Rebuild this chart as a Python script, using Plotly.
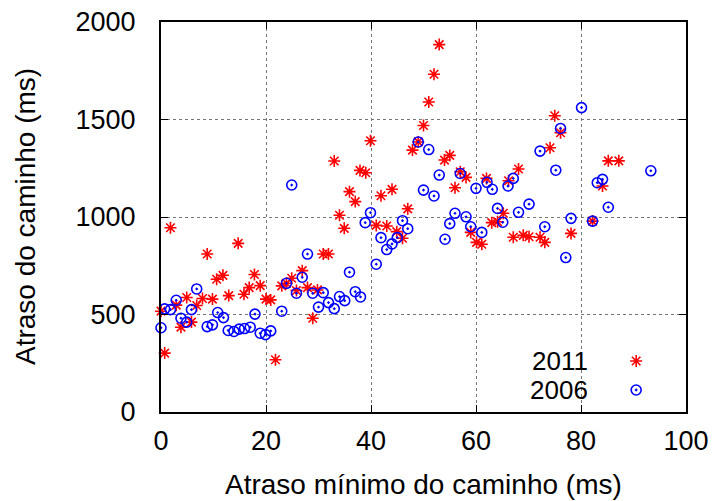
import plotly.graph_objects as go

# 2011 series (red stars)
x2011 = [0, 0.7, 1.8, 2.9, 3.8, 4.9, 5.8, 6.8, 7.9, 8.8, 9.8, 10.6, 11.8, 12.9, 14.7,
         15.8, 16.8, 17.8, 18.9, 20, 20.9, 21.8, 23, 23.9, 24.9, 25.8, 26.9, 27.9, 28.9,
         29.8, 30.9, 31.9, 33, 34, 34.9, 35.9, 37, 37.9, 39, 39.9, 41, 41.9, 43, 44, 44.9,
         46, 47, 47.9, 49, 50, 51, 52, 53, 54, 55, 56, 57, 58.1, 59, 60.1, 61.1, 62, 63,
         64.1, 65.2, 66.2, 67.1, 68.1, 69, 70.1, 72.2, 73.1, 74.1, 75, 76.1, 78.1, 82.2,
         84.1, 85.2, 87.2]
y2011 = [517, 302, 945, 548, 435, 587, 461, 546, 582, 810, 579, 681, 701, 597, 865,
         604, 638, 705, 648, 579, 575, 268, 647, 660, 686, 623, 725, 638, 481,
         626, 810, 810, 1287, 1009, 942, 1130, 1079, 1239, 1227, 1391, 957, 1109, 954, 1142, 925,
         891, 1042, 1343, 1385, 1469, 1590, 1732, 1884, 1292, 1316, 1150, 1232, 1203, 921, 870, 860, 1198, 971,
         976, 1019, 1186, 896, 1246, 906, 899, 896, 870, 1355, 1519, 1432, 916, 979,
         1159, 1288, 1288]

# 2006 series (blue circles)
x2006 = [0, 0.7, 1.8, 2.9, 3.8, 4.9, 5.8, 6.8, 8.8, 9.8, 10.8, 11.9, 12.8, 13.9, 14.9,
         15.9, 17.0, 17.9, 18.9, 19.9, 20.9, 23, 23.9, 24.9, 25.8, 26.9, 27.9, 28.9, 30.0,
         30.9, 31.9, 33.0, 34.0, 35.0, 35.9, 37.0, 38.0, 38.9, 39.9, 41, 41.9, 43, 44, 45,
         46, 47, 49, 50, 51, 52, 53, 54.1, 55, 56, 57, 58.1, 59, 60, 61.1, 62.1, 63.1, 64.1,
         65.1, 66.1, 67.1, 68.1, 70.1, 72.2, 73.1, 75.2, 76.1, 77.1, 78.1, 80.1, 82.2, 83.1,
         84.1, 85.2, 93.3]
y2006 = [432, 529, 525, 573, 481, 461, 525, 631, 438, 447, 510, 484, 418, 413, 425,
         428, 435, 502, 404, 397, 416, 517, 660, 1164, 609, 691, 810, 609, 538,
         612, 561, 530, 592, 571, 717, 617, 590, 971, 1022, 758, 894, 833, 862, 894,
         981, 940, 1385, 1138, 1346, 1108, 1215, 886, 966, 1019, 1223, 1001, 950, 1147, 921, 1178, 1142, 1044,
         973, 1159, 1198, 1024, 1066, 1338, 950, 1240, 1454, 792, 993, 1561, 979, 1176,
         1193, 1050, 1237]

series_names = ["2011", "2006"]
x_ticks = [0, 20, 40, 60, 80, 100]
y_ticks = [0, 500, 1000, 1500, 2000]
x_title = "Atraso mínimo do caminho (ms)"
y_title = "Atraso do caminho (ms)"

FONT = "Liberation Sans, Arial, sans-serif"

fig = go.Figure()
fig.add_trace(go.Scatter(
    x=x2011, y=y2011, mode="markers", name=" ",
    marker=dict(symbol="asterisk-open", size=10, color="#ff0000",
                line=dict(color="#ff0000", width=1.6)),
    cliponaxis=False, showlegend=True))
fig.add_trace(go.Scatter(
    x=x2006, y=y2006, mode="markers", name="  ",
    marker=dict(symbol="circle-open-dot", size=10, color="#0000ff",
                line=dict(color="#0000ff", width=1.6)),
    cliponaxis=False, showlegend=True))

axis_common = dict(
    showline=True, linecolor="black", linewidth=2, mirror="ticks",
    ticks="inside", ticklen=7, tickwidth=1, tickcolor="black",
    showgrid=True, gridcolor="#777777", gridwidth=1, griddash="dot",
    zeroline=False, ticklabeloverflow="allow",
    tickfont=dict(family=FONT, size=27, color="black"),
)

fig.update_xaxes(range=[0, 100], tickvals=x_ticks, ticklabelstandoff=4, **axis_common)
fig.update_yaxes(range=[0, 2000], tickvals=y_ticks, ticklabelstandoff=18, **axis_common)

fig.update_layout(
    width=716, height=501,
    margin=dict(l=161, r=30, t=22, b=89, autoexpand=False),
    plot_bgcolor="white", paper_bgcolor="white",
    font=dict(family=FONT, size=26, color="black"),
    showlegend=True,
    legend=dict(x=0.867, y=0.0936, xanchor="left", yanchor="middle",
                bgcolor="rgba(0,0,0,0)", font=dict(size=20), tracegroupgap=0),
    annotations=[
        dict(text=series_names[0], xref="paper", yref="paper", x=0.817, y=0.131,
             xanchor="right", yanchor="middle", showarrow=False, font=dict(size=26)),
        dict(text=series_names[1], xref="paper", yref="paper", x=0.817, y=0.056,
             xanchor="right", yanchor="middle", showarrow=False, font=dict(size=26)),
        dict(text=x_title, xref="paper", yref="paper", x=0.5, y=-0.185,
             xanchor="center", yanchor="middle", showarrow=False, font=dict(size=28)),
        dict(text=y_title, xref="paper", yref="paper", x=-0.259, y=0.5,
             xanchor="center", yanchor="middle", textangle=-90, showarrow=False,
             font=dict(size=28)),
    ],
)

fig.write_html("out.html", config={"displayModeBar": False},
               post_script="document.body.style.margin='0';")
